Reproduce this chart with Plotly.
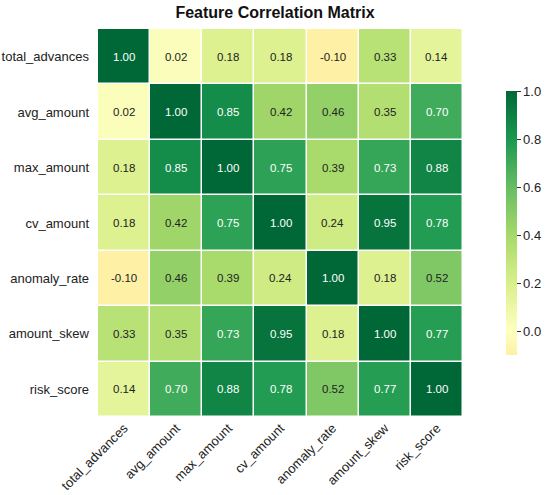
import plotly.graph_objects as go

features = ["total_advances", "avg_amount", "max_amount", "cv_amount",
            "anomaly_rate", "amount_skew", "risk_score"]

corr_total_advances = [1.00, 0.02, 0.18, 0.18, -0.10, 0.33, 0.14]
corr_avg_amount = [0.02, 1.00, 0.85, 0.42, 0.46, 0.35, 0.70]
corr_max_amount = [0.18, 0.85, 1.00, 0.75, 0.39, 0.73, 0.88]
corr_cv_amount = [0.18, 0.42, 0.75, 1.00, 0.24, 0.95, 0.78]
corr_anomaly_rate = [-0.10, 0.46, 0.39, 0.24, 1.00, 0.18, 0.52]
corr_amount_skew = [0.33, 0.35, 0.73, 0.95, 0.18, 1.00, 0.77]
corr_risk_score = [0.14, 0.70, 0.88, 0.78, 0.52, 0.77, 1.00]

matriz = [corr_total_advances, corr_avg_amount, corr_max_amount, corr_cv_amount,
          corr_anomaly_rate, corr_amount_skew, corr_risk_score]

# RdYlGn centrado en 0 (como seaborn con center=0), recortado a [-0.1, 1]
zmin, zmax = -0.10, 1.00
stops = [(-0.10, (254, 240, 165)), (0.0, (255, 255, 191)), (0.2, (217, 239, 139)),
         (0.4, (166, 217, 106)), (0.6, (102, 189, 99)), (0.8, (26, 152, 80)),
         (1.0, (0, 104, 55))]
escala = [[(v - zmin) / (zmax - zmin), "rgb(%d,%d,%d)" % c] for v, c in stops]


def color_en(v):
    for (v0, c0), (v1, c1) in zip(stops[:-1], stops[1:]):
        if v0 <= v <= v1:
            t = (v - v0) / (v1 - v0)
            return [a + (b - a) * t for a, b in zip(c0, c1)]
    return stops[-1][1]


def luminancia(rgb):
    out = []
    for c in rgb:
        c = c / 255
        out.append(c / 12.92 if c <= 0.03928 else ((c + 0.055) / 1.055) ** 2.4)
    return 0.2126 * out[0] + 0.7152 * out[1] + 0.0722 * out[2]


fuente = "Liberation Sans, Arial"

fig = go.Figure(go.Heatmap(
    z=matriz, x=features, y=features,
    zmin=zmin, zmax=zmax, colorscale=escala,
    xgap=1.5, ygap=1.5,
    hoverongaps=False,
    colorbar=dict(
        thickness=11, len=0.68, lenmode="fraction",
        x=1.118, xanchor="left", xpad=0, y=0.5, yanchor="middle", ypad=0,
        outlinewidth=0, ticks="outside", ticklen=4, tickcolor="#333",
        tickvals=[0.0, 0.2, 0.4, 0.6, 0.8, 1.0], tickformat=".1f",
        tickfont=dict(family=fuente, size=13, color="#222"),
    ),
))

anotaciones = []
for i, fila in enumerate(matriz):
    for j, v in enumerate(fila):
        col = "#222222" if luminancia(color_en(v)) > 0.408 else "white"
        anotaciones.append(dict(
            x=features[j], y=features[i], text=f"{v:.2f}", showarrow=False,
            font=dict(family=fuente, size=11.5, color=col),
        ))

fig.update_layout(
    width=550, height=495,
    margin=dict(l=98, r=87, t=29, b=78, autoexpand=False),
    paper_bgcolor="white", plot_bgcolor="white",
    title=dict(text="<b>Feature Correlation Matrix</b>", x=0.5, xanchor="center",
               y=0.975, yanchor="middle",
               font=dict(family=fuente, size=16, color="#111")),
    xaxis=dict(tickangle=-45, showgrid=False, zeroline=False, ticks="",
               automargin=False, ticklabelstandoff=0,
               tickfont=dict(family=fuente, size=13, color="#222")),
    yaxis=dict(autorange="reversed", showgrid=False, zeroline=False, ticks="",
               automargin=False, ticklabelstandoff=8,
               tickfont=dict(family=fuente, size=13, color="#222")),
    annotations=anotaciones,
)

fig.write_html("out.html", config={"displayModeBar": False},
               post_script="document.body.style.margin='0';")
